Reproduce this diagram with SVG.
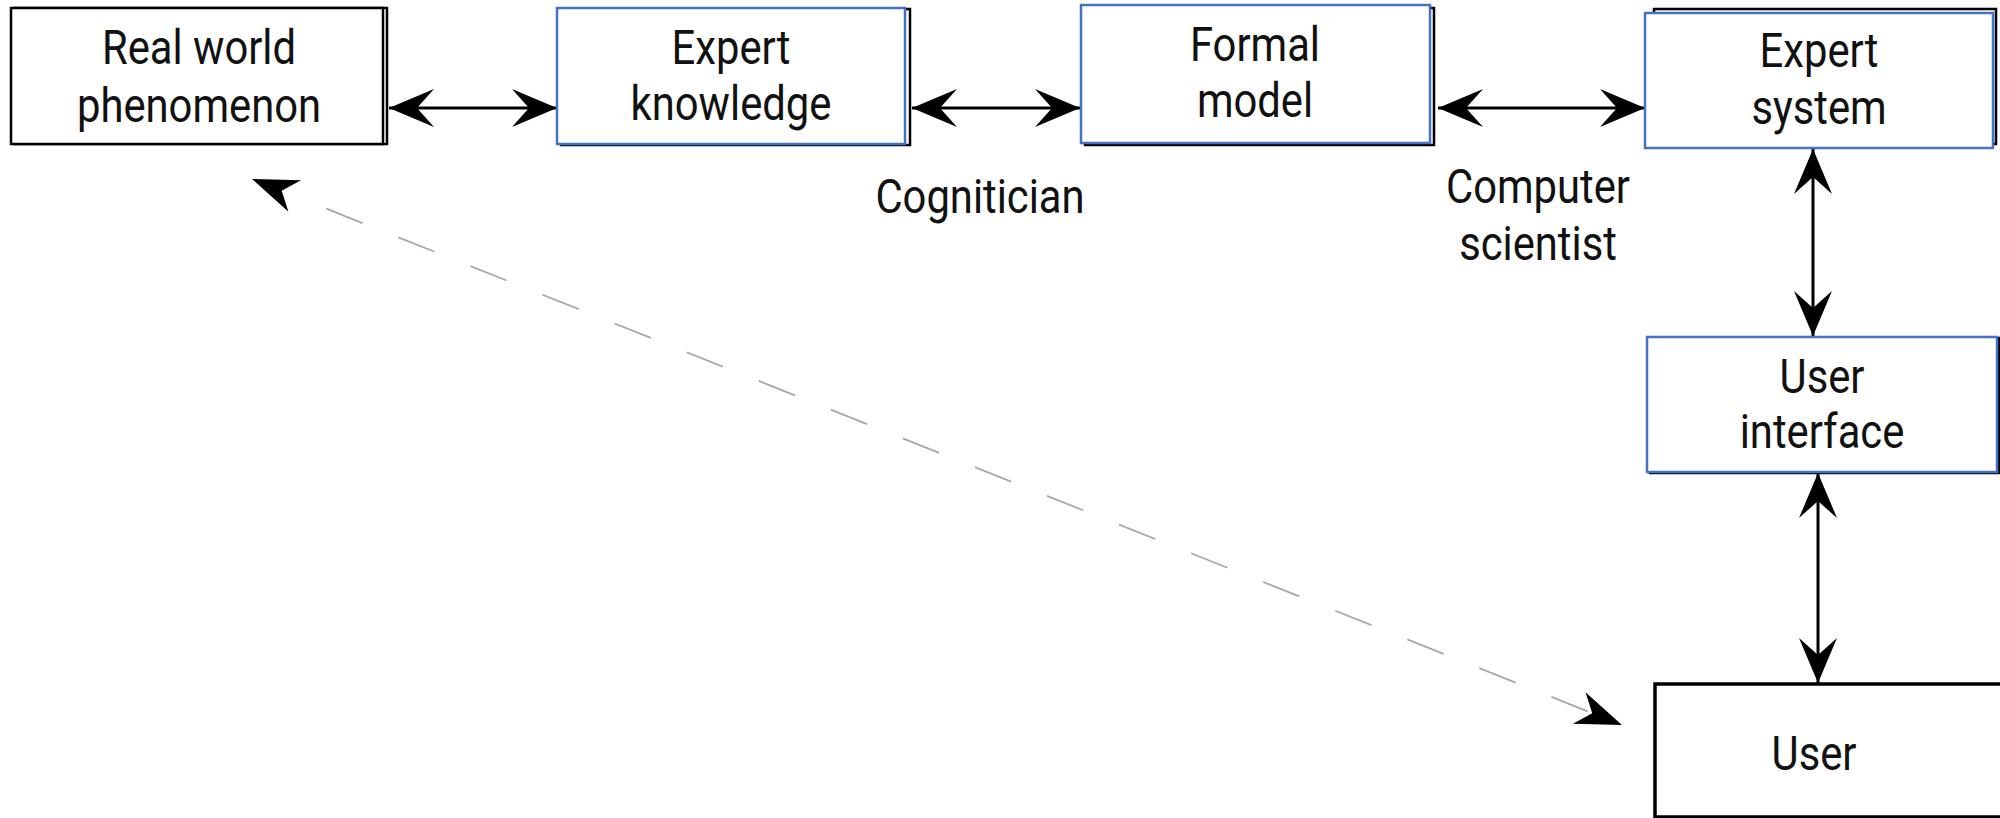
<svg xmlns="http://www.w3.org/2000/svg" width="2000" height="818" viewBox="0 0 2000 818">
<style>
.bg{fill:#ffffff}
.blk{fill:#ffffff;stroke:#000000;stroke-width:2.5}
.blu{fill:#ffffff;stroke:#4472C4;stroke-width:2.5}
.usr{fill:#ffffff;stroke:#000000;stroke-width:3.5}
.t{font-family:Roboto,"Noto Sans","Liberation Sans",sans-serif;font-size:48px;fill:#111111;text-anchor:middle}
.con{fill:none;stroke:#000000;stroke-width:3}
.dash{fill:none;stroke:#a8a8a8;stroke-width:1.8;stroke-dasharray:39 38.58}
</style>
<defs>
<marker id="ah" markerUnits="userSpaceOnUse" viewBox="-50 -25 55 50" markerWidth="55" markerHeight="50" refX="0" refY="0" orient="auto-start-reverse" overflow="visible">
<path d="M0,0 L-45,-19 L-28,0 L-45,19 Z" fill="#000000"/>
</marker>
<marker id="dStart" markerUnits="userSpaceOnUse" viewBox="-90 -25 95 50" markerWidth="95" markerHeight="50" refX="-80" refY="0" orient="auto-start-reverse" overflow="visible">
<path d="M0,0 L-46,-17 L-32,0 L-46,17 Z" fill="#000000"/>
</marker>
<marker id="dEnd" markerUnits="userSpaceOnUse" viewBox="-90 -25 95 50" markerWidth="95" markerHeight="50" refX="-37" refY="0" orient="auto" overflow="visible">
<path d="M0,0 L-46,-17 L-32,0 L-46,17 Z" fill="#000000"/>
</marker>
</defs>
<rect class="bg" x="0" y="0" width="2000" height="818"/>

<g id="connectors">
<line class="con" x1="389" y1="108" x2="557" y2="108" marker-start="url(#ah)" marker-end="url(#ah)"/>
<line class="con" x1="912" y1="108" x2="1080" y2="108" marker-start="url(#ah)" marker-end="url(#ah)"/>
<line class="con" x1="1438" y1="108" x2="1645" y2="108" marker-start="url(#ah)" marker-end="url(#ah)"/>
<line class="con" x1="1813" y1="149" x2="1813" y2="336" marker-start="url(#ah)" marker-end="url(#ah)"/>
<line class="con" x1="1818" y1="473" x2="1818" y2="683" marker-start="url(#ah)" marker-end="url(#ah)"/>
<line class="dash" x1="326.3" y1="208.6" x2="1587.6" y2="711.3" marker-start="url(#dStart)" marker-end="url(#dEnd)"/>
</g>

<g id="real-world">
<rect class="blk" x="15" y="8" width="372" height="136"/>
<rect class="blk" x="11" y="8" width="372" height="136"/>
<text class="t" transform="matrix(0.87 0 0 1 199 0)"><tspan x="0" y="64">Real world</tspan><tspan x="0" y="122">phenomenon</tspan></text>
</g>

<g id="expert-knowledge">
<rect class="blk" x="561" y="9" width="349" height="136"/>
<rect class="blu" x="557" y="8" width="348" height="136"/>
<text class="t" transform="matrix(0.87 0 0 1 731 0)"><tspan x="0" y="64">Expert</tspan><tspan x="0" y="120">knowledge</tspan></text>
</g>

<g id="formal-model">
<rect class="blk" x="1085" y="8" width="349" height="137"/>
<rect class="blu" x="1081" y="5" width="349" height="138"/>
<text class="t" transform="matrix(0.87 0 0 1 1255 0)"><tspan x="0" y="61">Formal</tspan><tspan x="0" y="117">model</tspan></text>
</g>

<g id="expert-system">
<rect class="blk" x="1654" y="9" width="342" height="135"/>
<rect class="blu" x="1645" y="13" width="348" height="135"/>
<text class="t" transform="matrix(0.87 0 0 1 1819 0)"><tspan x="0" y="67">Expert</tspan><tspan x="0" y="124">system</tspan></text>
</g>

<g id="user-interface">
<rect class="blk" x="1650" y="338" width="349" height="135"/>
<rect class="blu" x="1647" y="337" width="350" height="135"/>
<text class="t" transform="matrix(0.87 0 0 1 1822 0)"><tspan x="0" y="393">User</tspan><tspan x="0" y="448">interface</tspan></text>
</g>

<g id="user">
<rect class="usr" x="1655" y="684" width="400" height="133"/>
<text class="t" transform="matrix(0.87 0 0 1 1814 0)"><tspan x="0" y="770">User</tspan></text>
</g>

<g id="label-cognitician">
<text class="t" transform="matrix(0.87 0 0 1 980 0)"><tspan x="0" y="213">Cognitician</tspan></text>
</g>

<g id="label-computer-scientist">
<text class="t" transform="matrix(0.87 0 0 1 1538 0)"><tspan x="0" y="203">Computer</tspan><tspan x="0" y="260">scientist</tspan></text>
</g>
</svg>
